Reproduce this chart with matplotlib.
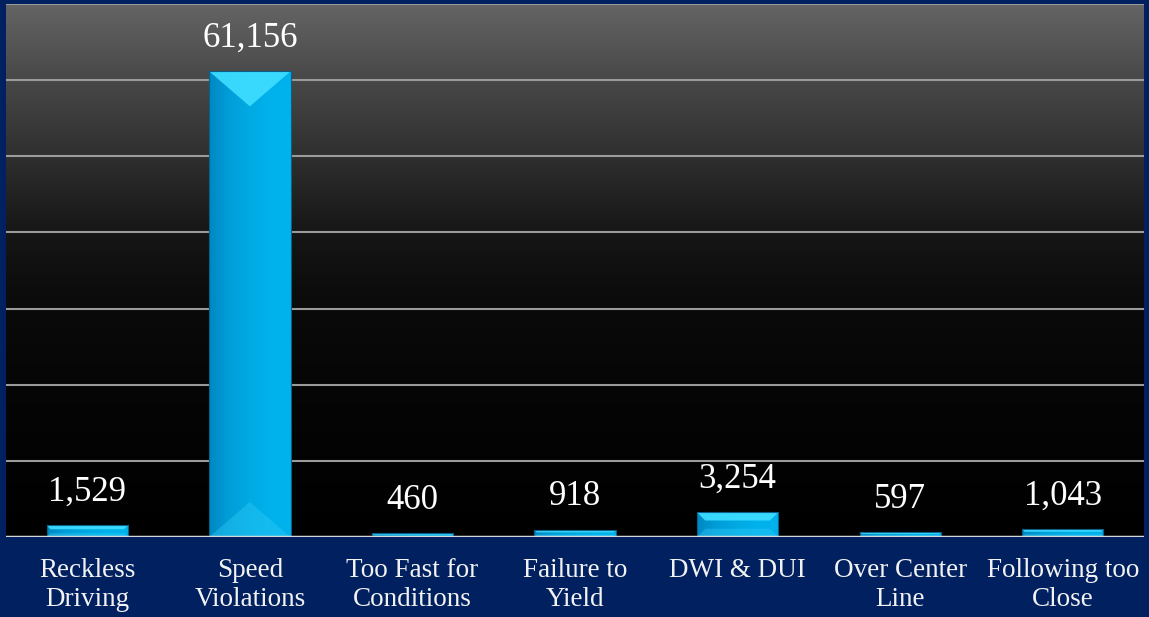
import numpy as np
import matplotlib
matplotlib.use('Agg')
from matplotlib import pyplot as plt
from matplotlib.patches import Polygon
from matplotlib.colors import LinearSegmentedColormap

plt.rcParams['font.family'] = ['Liberation Serif', 'DejaVu Serif']

# data
categories = ['Reckless\nDriving', 'Speed\nViolations', 'Too Fast for\nConditions',
              'Failure to\nYield', 'DWI & DUI', 'Over Center\nLine', 'Following too\nClose']
values = [1529, 61156, 460, 918, 3254, 597, 1043]
value_labels = ['1,529', '61,156', '460', '918', '3,254', '597', '1,043']
yticks = [0, 10000, 20000, 30000, 40000, 50000, 60000, 70000]

navy = '#002060'
W, H, DPI = 11.49, 6.17, 100

fig = plt.figure(figsize=(W, H), dpi=DPI, facecolor=navy)
ax = fig.add_axes([6/1149, 80/617, 1138/1149, 533/617])
ax.set_xlim(-0.5, len(categories) - 0.5)
ax.set_ylim(0, 70000)

# dark gray -> black gradient behind the plot
grad = LinearSegmentedColormap.from_list('bg', [(0, '#000000'), (0.25, '#050505'),
                                                 (0.43, '#0a0a0a'), (0.57, '#161616'),
                                                 (0.71, '#2e2e2e'), (0.86, '#484848'),
                                                 (1, '#646464')])
g = np.linspace(0, 1, 256).reshape(-1, 1)
ax.imshow(g, cmap=grad, aspect='auto', origin='lower', extent=[-0.5, 6.5, 0, 70000], zorder=0)

for yv in yticks[1:]:
    ax.axhline(yv, color='#9a9a9a', lw=1.5, zorder=1)
ax.axhline(0, color='#d8d8d8', lw=2.5, zorder=4)

x = np.arange(len(categories))
bw = 0.5
bars = ax.bar(x, values, width=bw, color='none', edgecolor='#0b5f88', lw=0.8, zorder=3.5)

barcmap = LinearSegmentedColormap.from_list('bar', ['#0088c2', '#009fd9', '#00aae3', '#00b2ec', '#00b2ec'])
hg = np.linspace(0, 1, 128).reshape(1, -1)

# pixel scale for the bevel
ax_w_px = 1138
ax_h_px = 533
px_x = len(categories) / ax_w_px
px_y = 70000 / ax_h_px

for b in bars:
    x0 = b.get_x()
    x1 = x0 + b.get_width()
    h = b.get_height()
    im = ax.imshow(hg, cmap=barcmap, aspect='auto', extent=[x0, x1, 0, h], zorder=2)
    im.set_clip_path(b)
    w_px = b.get_width() / px_x
    h_px = h / px_y
    dx = min(w_px / 2, h_px / 3) * px_x
    dy = min(35, h_px / 3) * px_y
    ix0, ix1 = x0 + dx, x1 - dx
    iy0, iy1 = dy, h - dy
    faces = [
        ([(x0, h), (x1, h), (ix1, iy1), (ix0, iy1)], '#3cdcff', 0.95),
        ([(x0, 0), (x1, 0), (ix1, iy0), (ix0, iy0)], '#30ccf8', 0.4),
    ]
    for pts, c, a in faces:
        ax.add_patch(Polygon(pts, closed=True, facecolor=c, alpha=a, edgecolor='none', zorder=3))

for xi, v, lab in zip(x, values, value_labels):
    ax.annotate(lab, (xi, v), xytext=(0, 12), textcoords='offset points',
                ha='center', va='bottom', color='white', fontsize=25)

ax.set_xticks(x)
ax.set_xticklabels(categories, color='#f2f2f2', fontsize=19.5, linespacing=1.2)
ax.tick_params(axis='x', length=0, pad=15)
ax.set_yticks([])
for s in ax.spines.values():
    s.set_visible(False)

fig.savefig('out.png', dpi=DPI, facecolor=navy)
